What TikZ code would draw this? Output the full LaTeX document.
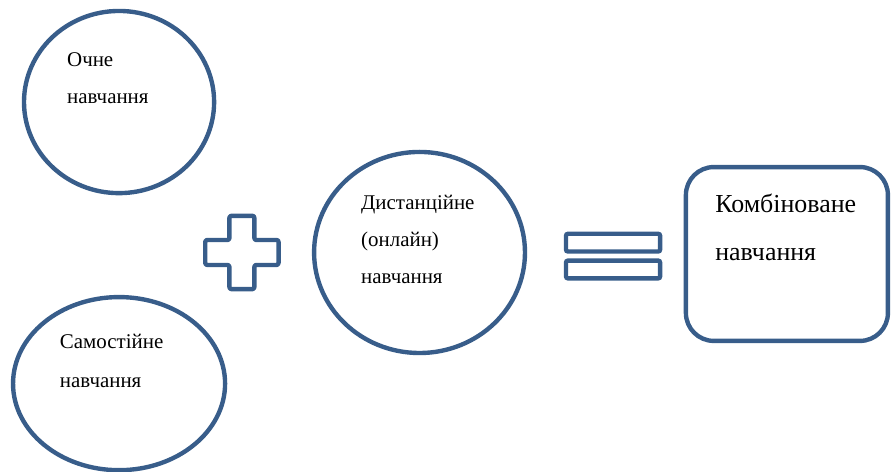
\documentclass[tikz,border=0pt]{standalone}
\usepackage{fontspec}
\setmainfont{Liberation Serif}
\usetikzlibrary{shapes.geometric,calc,positioning}
\definecolor{ringblue}{RGB}{56,93,138}

\begin{document}
\begin{tikzpicture}[
  ring/.style={
    draw=ringblue,
    line width=3.3pt,
    ellipse,
    inner sep=0pt
  },
  signline/.style={draw=ringblue, line width=3.3pt, rounded corners=1.5pt, line join=round},
  eqbar/.style={
    draw=ringblue,
    line width=3.3pt,
    rounded corners=1.5pt,
    inner sep=0pt,
    minimum width=24.9mm,
    minimum height=4.7mm
  },
  resultbox/.style={
    draw=ringblue,
    line width=3.3pt,
    rounded corners=7.4mm,
    minimum width=53.45mm,
    minimum height=46.0mm
  },
  txt/.style={anchor=base west, inner sep=0pt, font=\fontsize{15.75pt}{18pt}\selectfont},
  bigtxt/.style={anchor=base west, inner sep=0pt, font=\fontsize{19.5pt}{22pt}\selectfont}
]
\useasboundingbox (0,0) rectangle (235.74mm,-124.88mm);

% ===== Left side: two circles =====
\node[ring, minimum width=50.3mm, minimum height=48.2mm] (ochne) at (31.5mm,-27.0mm) {};
\node[txt] (ochne1) at (17.7mm,-17.7mm) {Очне};
\node[txt] (ochne2) at (17.7mm,-27.5mm) {навчання};

\node[ring, minimum width=56.1mm, minimum height=45.8mm] (samost) at (31.5mm,-101.5mm) {};
\node[txt] (samost1) at (15.8mm,-92.1mm) {Самостійне};
\node[txt] (samost2) at (15.8mm,-102.4mm) {навчання};

% ===== Plus sign =====
\coordinate (plus) at (64.0mm,-66.8mm);
\draw[signline] ($(plus)+(-3.3mm,9.7mm)$) -- ++(6.6mm,0) -- ++(0,-6.4mm) -- ++(6.4mm,0)
  -- ++(0,-6.6mm) -- ++(-6.4mm,0) -- ++(0,-6.4mm) -- ++(-6.6mm,0) -- ++(0,6.4mm)
  -- ++(-6.4mm,0) -- ++(0,6.6mm) -- ++(6.4mm,0) -- cycle;

% ===== Middle circle =====
\node[ring, minimum width=55.8mm, minimum height=53.2mm] (dist) at (111.0mm,-66.8mm) {};
\node[txt] (dist1) at (95.5mm,-55.4mm) {Дистанційне};
\node[txt] (dist2) at (95.5mm,-65.2mm) {(онлайн)};
\node[txt] (dist3) at (95.5mm,-75.0mm) {навчання};

% ===== Equals sign =====
\node[eqbar] (eqtop) at (162.2mm,-64.2mm) {};
\node[eqbar] (eqbot) at (162.2mm,-71.3mm) {};

% ===== Result box =====
\node[resultbox] (komb) at (208.2mm,-67.2mm) {};
\node[bigtxt] (komb1) at (189.2mm,-56.1mm) {Комбіноване};
\node[bigtxt] (komb2) at (189.2mm,-68.8mm) {навчання};

\end{tikzpicture}
\end{document}
